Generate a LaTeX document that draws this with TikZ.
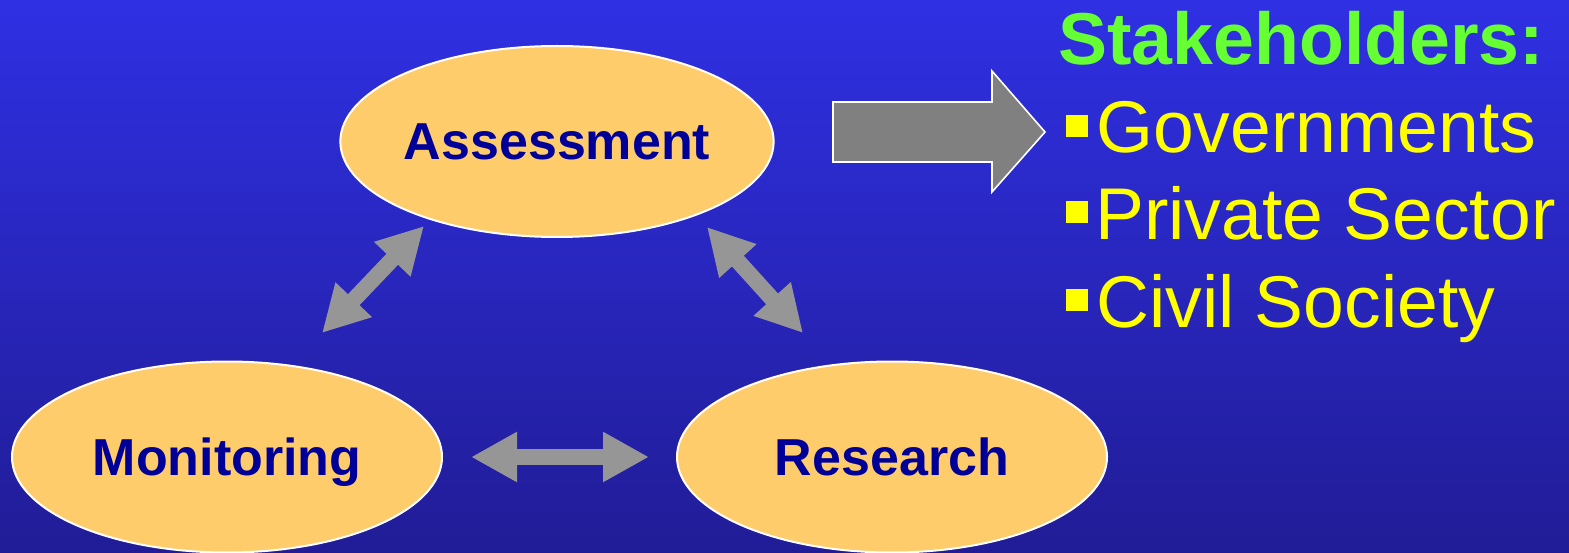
\documentclass[tikz,border=0pt]{standalone}
\usepackage{fontspec}
\setmainfont{Liberation Sans}
\usetikzlibrary{shapes.geometric,arrows.meta}
\definecolor{bgtop}{RGB}{47,48,227}
\definecolor{bgbot}{RGB}{33,28,150}
\definecolor{ovalfill}{RGB}{255,204,108}
\definecolor{ovaltext}{RGB}{0,0,153}
\definecolor{stkgreen}{RGB}{102,255,51}
\definecolor{stkyellow}{RGB}{255,255,0}
\definecolor{bigarrow}{RGB}{128,128,128}
\definecolor{smallarrow}{RGB}{150,150,150}
\tikzset{
  oval/.style={ellipse, draw=white, line width=2pt, fill=ovalfill,
    minimum width=430pt, minimum height=191pt, inner sep=0pt,
    text=ovaltext, font=\fontsize{52}{60}\selectfont\bfseries,
    text height=37pt, text depth=0pt},
  dbl/.style={draw=smallarrow, line width=16pt,
    {Triangle[length=46pt,width=47pt]}-{Triangle[length=46pt,width=47pt]}},
  heading/.style={anchor=base west, inner sep=0pt, text=stkgreen,
    font=\fontsize{73.5}{80}\selectfont\bfseries},
  item/.style={anchor=base west, inner sep=0pt, text=stkyellow,
    font=\fontsize{73.3}{80}\selectfont},
  bul/.style={fill=stkyellow, minimum size=22pt, inner sep=0pt, draw=none},
  bigarr/.style={fill=bigarrow, draw=white, line width=1.6pt, line join=miter}
}
\begin{document}
\begin{tikzpicture}[x=1pt,y=-1pt]
\useasboundingbox (0,0) rectangle (1569,553);
\shade[top color=bgtop, bottom color=bgbot] (0,0) rectangle (1569,553);

% ovals
\node[oval] (ass) at (557,141.5) {Assessment};
\node[oval] (mon) at (227,457) {Monitoring};
\node[oval] (res) at (892,457) {Research};

% double arrows
\coordinate (am1) at (424,226);
\coordinate (am2) at (322,333);
\coordinate (ar1) at (707,227);
\coordinate (ar2) at (803,333);
\draw[dbl] (am2) -- (am1);
\draw[dbl] (ar1) -- (ar2);
\path (mon.east) ++(28,0) coordinate (mr1) (res.west) ++(-27,0) coordinate (mr2);
\draw[dbl] (mr1) -- (mr2);

% big arrow
\coordinate (ba) at (833,102);
\draw[bigarr] (ba) -- (992,102) -- (992,71) -- (1045,132) -- (992,192) -- (992,162) -- (833,162) -- cycle;

% stakeholders
\node[heading] (stk) at (1058,65) {Stakeholders:};
\node[bul] (b1) at (1077,126) {};
\node[bul] (b2) at (1077,212.5) {};
\node[bul] (b3) at (1077,300) {};
\node[item] (gov) at (1096,153) {Governments};
\node[item] (pri) at (1095,240) {Private Sector};
\node[item] (civ) at (1096,327) {Civil Society};
\end{tikzpicture}
\end{document}
